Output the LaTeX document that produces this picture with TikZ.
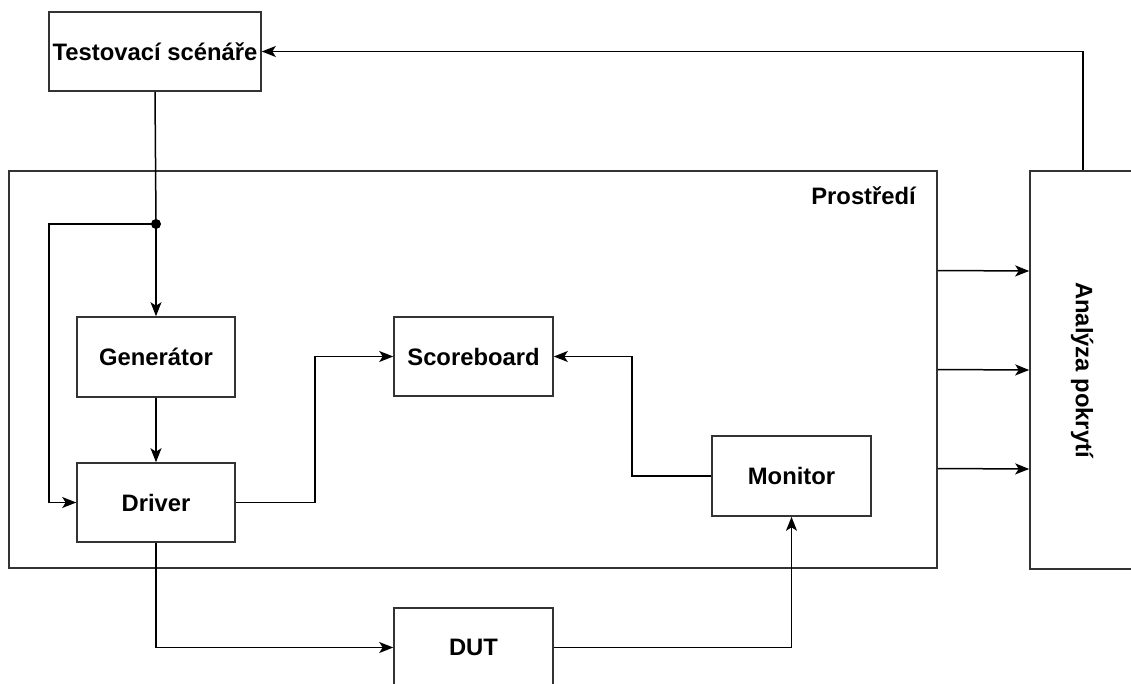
\documentclass[tikz,border=0pt]{standalone}
\usepackage{fontspec}
\setmainfont{Liberation Sans}
\usetikzlibrary{arrows.meta}
\begin{document}
\begin{tikzpicture}[x=1pt,y=-1pt,
  block/.style={draw=black!80,line width=1.6pt,fill=white,rectangle,inner sep=0pt,
    font=\bfseries\fontsize{23.8}{28}\selectfont},
  link/.style={line width=1.5pt,draw=black},
  arr/.style={link,-{Stealth[length=14pt,width=11pt,inset=3.5pt]}},
  lbl/.style={inner sep=0pt,font=\bfseries\fontsize{23.8}{28}\selectfont}]
\useasboundingbox (0,0) rectangle (1131,684);

% outer frames
\node[block,minimum width=928pt,minimum height=397pt] (env) at (473,369.5) {};
\node[lbl,anchor=base east] (envlbl) at (916,205) {Prostředí};
\node[block,minimum width=106pt,minimum height=398pt] (cov) at (1083,370) {};
\node[lbl,rotate=-90] (covlbl) at (1082,370) {Analýza pokrytí};

% blocks
\node[block,minimum width=212pt,minimum height=79pt] (test) at (155,51.5) {Testovací scénáře};
\node[block,minimum width=158pt,minimum height=80pt] (gen) at (156,357) {Generátor};
\node[block,minimum width=158pt,minimum height=79pt] (drv) at (156,502.5) {Driver};
\node[block,minimum width=159pt,minimum height=79pt] (sb) at (473.5,356.5) {Scoreboard};
\node[block,minimum width=159pt,minimum height=80pt] (mon) at (791.5,476) {Monitor};
\node[block,minimum width=159pt,minimum height=79pt] (dut) at (473.5,647.5) {DUT};

% junctions
\coordinate (split) at (156,224);
\coordinate (loop) at (49,224);
\coordinate (j1) at (315,502.5);
\coordinate (j2) at (632,476);

% connectors
\draw[link] (test.south) -- (split);
\fill (split) circle (5pt);
\draw[arr] (split) -- (gen.north);
\draw[arr] (split) -- (loop) |- (drv.west);
\draw[arr] (gen.south) -- (drv.north);
\draw[arr] (drv.east) -- (j1) |- (sb.west);
\draw[arr] (mon.west) -- (j2) |- (sb.east);
\draw[arr] (drv.south) |- (dut.west);
\draw[arr] (dut.east) -| (mon.south);
\draw[arr] ([yshift=99pt]env.east) -- ([yshift=99pt]cov.west);
\draw[arr] (env.east) -- (cov.west);
\draw[arr] ([yshift=-99pt]env.east) -- ([yshift=-99pt]cov.west);
\draw[arr] (cov.north) |- (test.east);
\end{tikzpicture}
\end{document}
